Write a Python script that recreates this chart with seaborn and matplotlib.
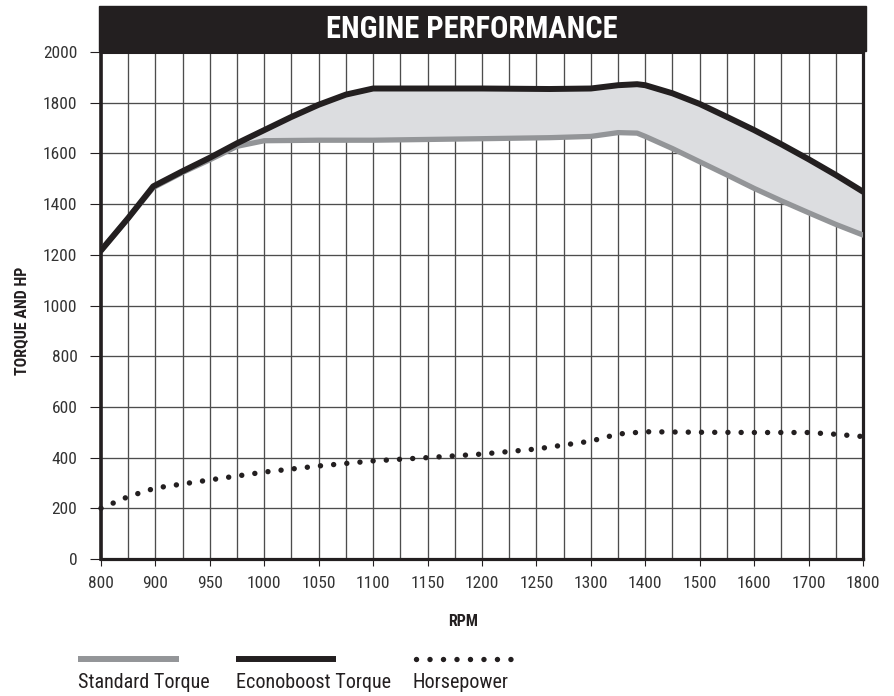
import numpy as np
import pandas as pd
import matplotlib
matplotlib.use("Agg")
import matplotlib.pyplot as plt
from matplotlib.patches import Rectangle
from matplotlib.lines import Line2D
import seaborn as sns

# ---------------- data ----------------
tick_rpm = [800, 900, 950, 1000, 1050, 1100, 1150, 1200, 1250, 1300, 1400, 1500, 1600, 1700, 1800]
tick_labels = [str(v) for v in tick_rpm]

rpm = [800, 850, 896, 925, 950, 975, 1000, 1025, 1050, 1075, 1100, 1200, 1262, 1300,
       1350, 1385, 1400, 1450, 1500, 1550, 1600, 1650, 1700, 1750, 1800]
econoboost = [1217, 1345, 1470, 1530, 1583, 1640, 1692, 1744, 1792, 1832, 1856, 1856, 1854, 1856,
              1869, 1873, 1869, 1837, 1795, 1744, 1692, 1636, 1577, 1515, 1449]
standard = [1217, 1345, 1465, 1525, 1575, 1628, 1650, 1651, 1652, 1652, 1652, 1658, 1662, 1667,
            1682, 1680, 1667, 1619, 1567, 1515, 1462, 1413, 1366, 1320, 1278]

hp_rpm = [800, 850, 900, 950, 1000, 1050, 1100, 1150, 1200, 1250, 1300, 1350, 1400, 1500, 1600, 1700, 1750, 1800]
horsepower = [200, 246, 280, 312, 343, 367, 387, 400, 414, 434, 465, 493, 502, 500, 499, 499, 492, 483]

y_ticks = list(range(0, 2001, 200))

# ---------------- style ----------------
sns.set_style("white")
FONT = ["Roboto Condensed", "DejaVu Sans"]
plt.rcParams["font.family"] = FONT

DARK = "#231f20"
GRAY = "#939598"
FILL = "#dcdde0"
GRID = "#4d4d4d"
TXT = "#333333"

W, H = 895, 696
fig = plt.figure(figsize=(W / 100, H / 100), dpi=100)
ax = fig.add_axes([101 / W, 1 - 559 / H, (863 - 101) / W, (559 - 52) / H])

# piecewise-linear RPM axis (labels equally spaced)
idx = np.arange(len(tick_rpm), dtype=float)
def fwd(x):
    return np.interp(x, tick_rpm, idx)
def inv(p):
    return np.interp(p, idx, tick_rpm)
ax.set_xscale("function", functions=(fwd, inv))

df = pd.DataFrame({"rpm": rpm, "Econoboost Torque": econoboost, "Standard Torque": standard})
hp_df = pd.DataFrame({"rpm": hp_rpm, "Horsepower": horsepower})

ax.fill_between(df["rpm"], df["Standard Torque"], df["Econoboost Torque"], color=FILL, lw=0, zorder=1)

sns.lineplot(data=df, x="rpm", y="Standard Torque", ax=ax, color=GRAY, lw=3.8, zorder=3)
ax.lines[-1].set_solid_joinstyle("round")
sns.lineplot(data=df, x="rpm", y="Econoboost Torque", ax=ax, color=DARK, lw=4.3, zorder=4)
ax.lines[-1].set_solid_joinstyle("round")
sns.lineplot(data=hp_df, x="rpm", y="Horsepower", ax=ax, color=DARK, lw=3.9, zorder=5)
hp_line = ax.lines[-1]
hp_line.set_linestyle((0, (0.01, 2.43)))
hp_line.set_dash_capstyle("round")
hp_line.set_clip_on(False)

ax.set_xlim(800, 1800)
ax.set_ylim(0, 2000)
ax.set_xticks(tick_rpm)
ax.set_xticklabels(tick_labels)
minor = [inv(i + 0.5) for i in range(len(tick_rpm) - 1)]
ax.set_xticks(minor, minor=True)
ax.set_yticks(y_ticks)
ax.set_yticklabels([str(v) for v in y_ticks])

ax.grid(True, which="both", axis="x", color=GRID, lw=0.95, zorder=1.5)
ax.grid(True, which="major", axis="y", color=GRID, lw=0.95, zorder=1.5)

ax.tick_params(axis="x", which="major", length=5, width=0.8, color=DARK, direction="out",
               labelsize=12.5, labelcolor=TXT, pad=7, bottom=True)
ax.tick_params(axis="x", which="minor", length=0, bottom=False)
ax.tick_params(axis="y", length=8, width=0.8, color=DARK, direction="out",
               labelsize=12.5, labelcolor=TXT, pad=9, left=True)

for side, lw in [("left", 2.6), ("bottom", 2.3), ("right", 2.3), ("top", 2.2)]:
    ax.spines[side].set_visible(True)
    ax.spines[side].set_color(DARK)
    ax.spines[side].set_linewidth(lw)

ax.set_xlabel("")
ax.set_ylabel("")

# header bar and title
fig.patches.append(Rectangle((99 / W, 1 - 51 / H), (866 - 99) / W, 45 / H,
                             transform=fig.transFigure, color=DARK, zorder=0))
fig.text(472 / W, 1 - 29 / H, "ENGINE PERFORMANCE", color="white", fontsize=22,
         fontweight="bold", ha="center", va="center", family=FONT)

# axis labels
fig.text(22 / W, 1 - 321 / H, "TORQUE AND HP", rotation=90, fontsize=11.5, fontweight="bold",
         color=DARK, ha="center", va="center", family=FONT)
fig.text(463 / W, 1 - 622 / H, "RPM", fontsize=11.5, fontweight="bold",
         color=DARK, ha="center", va="center", family=FONT)

# legend
ly = 1 - 659 / H
fig.add_artist(Line2D([78 / W, 179 / W], [ly, ly], color=GRAY, lw=4.3, solid_capstyle="butt",
                      transform=fig.transFigure))
fig.add_artist(Line2D([236 / W, 336 / W], [ly, ly], color=DARK, lw=4.3, solid_capstyle="butt",
                      transform=fig.transFigure))
fig.add_artist(Line2D([416 / W, 514 / W], [ly, ly], color=DARK, lw=3.9, linestyle=(0, (0.01, 2.48)),
                      dash_capstyle="round", transform=fig.transFigure))
for x0, lab in [(78, "Standard Torque"), (236, "Econoboost Torque"), (413, "Horsepower")]:
    fig.text(x0 / W, 1 - 683 / H, lab, fontsize=14.5, color=DARK, ha="left", va="center", family=FONT)

fig.savefig("out.png", dpi=100)
